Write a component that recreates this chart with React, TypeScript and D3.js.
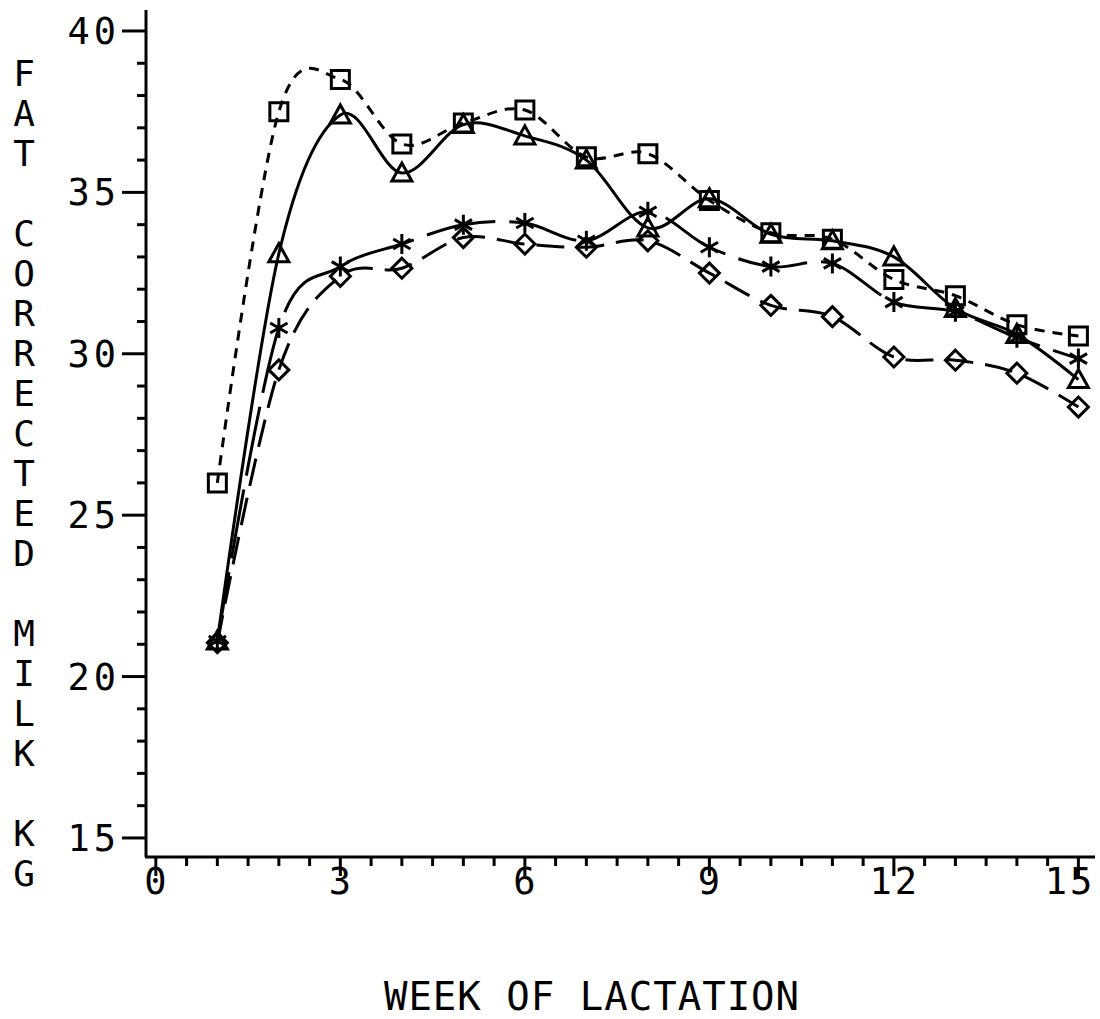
import { useRef, useEffect } from 'react';
import * as d3 from 'd3';

const weeks = [1, 2, 3, 4, 5, 6, 7, 8, 9, 10, 11, 12, 13, 14, 15];
const squareVals = [26.0, 37.5, 38.5, 36.5, 37.15, 37.55, 36.1, 36.2, 34.75, 33.75, 33.55, 32.3, 31.8, 30.9, 30.55];
const triangleVals = [21.1, 33.1, 37.4, 35.6, 37.1, 36.75, 36.0, 33.9, 34.8, 33.7, 33.5, 33.0, 31.4, 30.6, 29.2];
const starVals = [21.1, 30.8, 32.7, 33.4, 34.0, 34.05, 33.5, 34.4, 33.3, 32.7, 32.8, 31.6, 31.3, 30.5, 29.85];
const diamondVals = [21.05, 29.5, 32.4, 32.65, 33.6, 33.4, 33.3, 33.5, 32.5, 31.5, 31.15, 29.9, 29.8, 29.4, 28.35];

const xTicks = [0, 3, 6, 9, 12, 15];
const yTicks = [15, 20, 25, 30, 35, 40];
const yTitle = 'FAT CORRECTED MILK KG';
const xTitle = 'WEEK OF LACTATION';

const FONT = '"DejaVu Sans Mono", monospace';

export default function App() {
  const svgRef = useRef<SVGSVGElement>(null);

  useEffect(() => {
    const svg = d3.select(svgRef.current);
    svg.selectAll('*').remove();

    // plot frame: axis lines sit at these pixel edges
    const left = 146, right = 1095, top = 10, bottom = 857;
    const x = d3.scaleLinear().domain([-0.16, 15.27]).range([left, right]);
    const y = d3.scaleLinear().domain([14.41, 40.65]).range([bottom, top]);

    const g = svg.append('g');

    // axes
    g.append('line').attr('x1', left).attr('x2', left).attr('y1', top).attr('y2', bottom)
      .attr('stroke', '#000').attr('stroke-width', 3);
    g.append('line').attr('x1', left - 1).attr('x2', right).attr('y1', bottom).attr('y2', bottom)
      .attr('stroke', '#000').attr('stroke-width', 3);

    // y ticks: minor every 1, major every 5
    const yMinor = d3.range(15, 41, 1);
    g.selectAll('.ytick').data(yMinor).join('line')
      .attr('x1', d => (d % 5 === 0 ? left - 24 : left - 9))
      .attr('x2', left)
      .attr('y1', d => y(d)).attr('y2', d => y(d))
      .attr('stroke', '#000').attr('stroke-width', 3);
    g.selectAll('.ylab').data(yTicks).join('text')
      .attr('x', left - 26).attr('y', d => y(d) + 13)
      .attr('text-anchor', 'end')
      .attr('font-family', FONT).attr('font-size', 37)
      .attr('letter-spacing', 4)
      .text(d => String(d));

    // x ticks: minor every 0.5, major every 3
    const xMinor = d3.range(0, 15.01, 0.5);
    g.selectAll('.xtick').data(xMinor).join('line')
      .attr('x1', d => x(d)).attr('x2', d => x(d))
      .attr('y1', bottom)
      .attr('y2', d => (d % 3 === 0 ? bottom + 19 : bottom + 9))
      .attr('stroke', '#000').attr('stroke-width', 3);
    g.selectAll('.xlab').data(xTicks).join('text')
      .attr('x', d => Math.min(x(d) + 1, 1070)).attr('y', 894)
      .attr('text-anchor', 'middle')
      .attr('font-family', FONT).attr('font-size', 37)
      .attr('letter-spacing', 3)
      .text(d => String(d));

    // axis titles
    g.append('text').attr('x', 592).attr('y', 1010)
      .attr('text-anchor', 'middle')
      .attr('font-family', FONT).attr('font-size', 39)
      .attr('letter-spacing', 1)
      .text(xTitle);
    g.selectAll('.ytitle').data(yTitle.split('')).join('text')
      .attr('x', 24).attr('y', (_, i) => 86 + i * 40)
      .attr('text-anchor', 'middle')
      .attr('font-family', FONT).attr('font-size', 36)
      .text(d => d);

    const series = [
      { vals: squareVals, dash: '10 8', marker: 'square' },
      { vals: triangleVals, dash: null, marker: 'triangle' },
      { vals: starVals, dash: '70 14', marker: 'star' },
      { vals: diamondVals, dash: '28 12', marker: 'diamond' },
    ];

    const line = d3.line<number>()
      .x((_, i) => x(weeks[i]))
      .y(d => y(d))
      .curve(d3.curveCatmullRom.alpha(0));

    series.forEach(s => {
      g.append('path')
        .attr('d', line(s.vals))
        .attr('fill', 'none')
        .attr('stroke', '#000')
        .attr('stroke-width', 3)
        .attr('stroke-dasharray', s.dash);

      const m = g.append('g');
      s.vals.forEach((v, i) => {
        const cx = x(weeks[i]);
        const cy = y(v);
        const r = 9;
        let d = '';
        if (s.marker === 'square') {
          d = `M${cx - r},${cy - r}H${cx + r}V${cy + r}H${cx - r}Z`;
        } else if (s.marker === 'triangle') {
          d = `M${cx},${cy - r - 1}L${cx + r + 1},${cy + r - 1}L${cx - r - 1},${cy + r - 1}Z`;
        } else if (s.marker === 'diamond') {
          d = `M${cx},${cy - r - 1}L${cx + r + 1},${cy}L${cx},${cy + r + 1}L${cx - r - 1},${cy}Z`;
        } else {
          const a = r + 1;
          const dx = a * Math.sin(Math.PI / 3);
          const dy = a * Math.cos(Math.PI / 3);
          d = `M${cx},${cy - a}V${cy + a}M${cx - dx},${cy - dy}L${cx + dx},${cy + dy}M${cx - dx},${cy + dy}L${cx + dx},${cy - dy}`;
        }
        m.append('path').attr('d', d)
          .attr('fill', 'none').attr('stroke', '#000').attr('stroke-width', 3)
          .attr('stroke-linejoin', 'miter');
      });
    });
  }, []);

  return (
    <svg
      ref={svgRef}
      width={1100}
      height={1019}
      style={{ position: 'absolute', left: 0, top: 0, background: '#fff' }}
    />
  );
}
